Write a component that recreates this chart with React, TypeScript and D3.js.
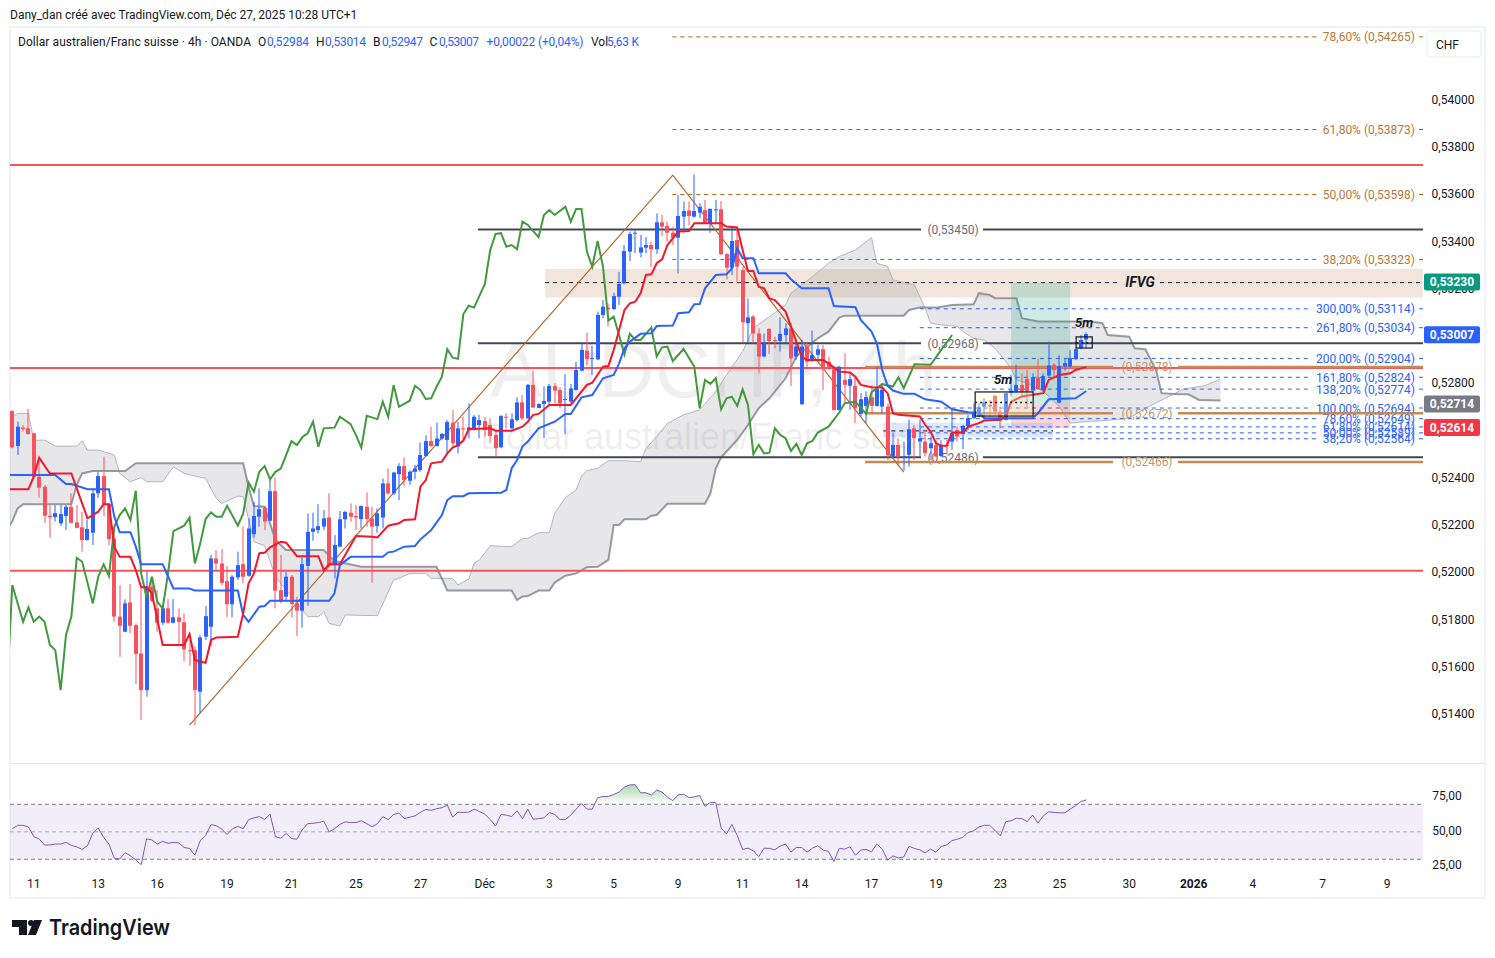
import React from 'react';
import * as d3 from 'd3';

const W = 1495;
const H = 958;
const FONT = 'Roboto, sans-serif';

// prices are kept in 1e-5 units (52984 = 0,52984), one entry per 4h bar
const opens = [
  52681,52533,52611,52608,52587,52403,52361,52238,52232,52206,
  52237,52276,52210,52189,52135,52166,52333,52406,52287,52142,
  51811,51747,51871,51775,51655,51500,51938,51846,51785,51846,
  51785,51808,51787,51669,51669,51493,51726,51768,52057,52036,
  51961,51863,51977,52033,51984,52160,52234,52272,52217,52342,
  51923,51895,51980,51867,51836,52026,52170,52177,52192,52231,
  52029,52107,52223,52251,52237,52224,52276,52227,52194,52230,
  52375,52333,52414,52448,52386,52424,52431,52491,52554,52533,
  52565,52559,52632,52531,52608,52601,52608,52622,52639,52622,52580,
  52528,52657,52608,52643,52718,52650,52792,52694,52711,52721,
  52787,52770,52729,52721,52770,52852,52937,52903,52900,53088,
  53119,53113,53165,53222,53356,53434,53352,53373,53384,53366,
  53480,53465,53436,53415,53504,53530,53504,53521,53532,53476,
  53532,53535,53346,53288,53405,53278,53053,53081,53010,52912,
  53029,52982,52978,53003,53031,52912,52710,52954,52893,52919,
  52943,52890,52858,52686,52813,52788,52788,52669,52703,52740,
  52703,52700,52700,52489,52538,52486,52496,52608,52552,52552,
  52524,52538,52491,52538,52552,52601,52584,52618,52651,52658,
  52700,52707,52745,52679,52644,52757,52764,52792,52817,52768,
  52824,52771,52831,52877,52717,52870,52870,52901,52947,52984,
];
const highs = [
  52685,52636,52622,52690,52590,52481,52368,52283,52283,52283,
  52283,52333,52283,52255,52220,52347,52424,52488,52290,52192,
  51945,51884,51949,51782,51938,52001,51980,51923,51860,51885,
  51885,51846,51825,51719,51684,51733,51856,52072,52093,52096,
  52025,51987,52086,52192,52227,52297,52354,52276,52389,52400,
  52072,52001,51987,51895,52065,52248,52251,52287,52262,52333,
  52156,52258,52259,52290,52283,52282,52337,52276,52269,52396,
  52438,52424,52460,52485,52431,52453,52548,52579,52615,52632,
  52589,52643,52686,52636,52657,52714,52665,52665,52657,52650,52601,
  52665,52672,52672,52739,52749,52796,52851,52714,52785,52796,
  52799,52782,52838,52796,52890,52968,53013,52957,53102,53151,
  53137,53182,53271,53384,53441,53445,53427,53417,53398,53518,
  53511,53483,53462,53596,53568,53568,53683,53561,53575,53539,
  53575,53570,53349,53465,53455,53292,53158,53088,53031,53010,
  53031,52996,53078,53053,53055,52975,52982,52975,53022,52961,
  52961,52912,52869,52872,52926,52844,52827,52757,52764,52792,
  52869,52792,52714,52590,52566,52552,52644,52623,52644,52601,
  52573,52559,52559,52559,52693,52615,52623,52665,52714,52714,
  52735,52728,52750,52700,52759,52834,52877,52841,52855,52841,
  52901,52841,52975,52884,52919,52905,52940,52947,53003,53014,
];
const lows = [
  52523,52495,52594,52582,52396,52314,52208,52145,52213,52194,
  52177,52206,52185,52086,52133,52114,52314,52237,52114,51789,
  51641,51745,51740,51525,51373,51472,51874,51747,51775,51782,
  51782,51691,51623,51603,51352,51401,51712,51684,52008,51945,
  51808,51808,51966,51952,51980,52145,52192,52177,52215,51846,
  51867,51874,51808,51729,51764,51857,52132,52163,52177,52020,
  51973,52105,52184,52213,52177,52184,52192,51954,52166,52184,
  52326,52326,52304,52364,52368,52392,52424,52488,52530,52531,
  52558,52502,52528,52502,52559,52566,52598,52566,52573,52545,52488,
  52524,52608,52604,52636,52643,52648,52693,52693,52566,52707,
  52714,52693,52583,52714,52768,52849,52876,52834,52897,53074,
  53039,53109,53130,53218,53316,53349,53331,53349,53290,53346,
  53422,53398,53384,53264,53436,53469,53501,53497,53473,53436,
  53476,53342,53239,53257,53229,52971,52971,52971,52841,52909,
  52923,52947,52933,52968,52787,52897,52707,52858,52890,52890,
  52770,52855,52683,52683,52714,52686,52630,52658,52630,52669,
  52700,52672,52474,52486,52449,52429,52446,52474,52489,52489,
  52474,52486,52486,52496,52517,52552,52520,52601,52647,52655,
  52658,52658,52665,52608,52641,52743,52757,52743,52693,52764,
  52771,52764,52827,52827,52714,52853,52867,52898,52943,52947,
];
const closes = [
  52527,52615,52605,52584,52403,52357,52238,52232,52249,52245,
  52276,52208,52187,52135,52182,52333,52406,52287,52139,51811,
  51772,51867,51772,51652,51500,51938,51877,51785,51846,51785,
  51808,51789,51672,51667,51500,51723,51813,52057,52036,51954,
  51863,51980,52029,51980,52184,52237,52266,52213,52342,51921,
  51874,51980,51864,51836,52033,52170,52184,52194,52227,52029,
  52114,52223,52254,52234,52231,52279,52224,52192,52248,52375,
  52333,52421,52448,52389,52424,52438,52495,52554,52533,52565,
  52584,52635,52545,52608,52604,52612,52657,52643,52601,52576,52524,
  52660,52653,52646,52718,52650,52792,52697,52711,52724,52787,
  52768,52714,52732,52777,52855,52940,52902,52906,53088,53123,
  53112,53168,53219,53359,53431,53436,53374,53384,53366,53480,
  53462,53436,53415,53507,53528,53507,53528,53546,53476,53537,
  53535,53345,53288,53401,53292,53057,53078,53010,52912,52968,
  52978,52979,53008,53031,52904,52954,52954,52890,52919,52943,
  52858,52862,52686,52869,52792,52816,52693,52731,52740,52703,
  52774,52771,52493,52538,52489,52489,52604,52566,52566,52503,
  52545,52489,52538,52534,52587,52573,52618,52651,52675,52697,
  52717,52700,52679,52641,52757,52768,52792,52764,52764,52824,
  52774,52830,52874,52855,52872,52884,52905,52943,52982,53007,
];

// ichimoku lines, as [bar, price] at the points where they turn
const tenkan: [number, number][] = [
  [-1,52350],[3,52350],[4,52403],[5,52484],[7,52417],[11,52417],[12,52354],[14,52227],[16,52255],[17,52287],[18,52287],
  [19,52107],[20,52064],[22,52064],[23,52008],[24,51935],[25,51935],[26,51909],[28,51691],[32,51691],[33,51737],[34,51627],
  [36,51616],[37,51712],[38,51723],[42,51726],[43,51825],[44,51952],[45,51994],[46,52079],[47,52081],[48,52104],[50,52128],
  [51,52124],[53,52067],[57,52067],[58,52008],[59,52033],[61,52033],[64,52152],[67,52149],[68,52146],[70,52196],[72,52206],
  [73,52220],[75,52223],[76,52361],[77,52389],[78,52460],[80,52467],[81,52502],[82,52527],[83,52537],[84,52556],[85,52604],
  [89,52608],[90,52598],[93,52598],[95,52615],[96,52636],[97,52665],[98,52669],[100,52707],[104,52707],[106,52763],[107,52792],
  [108,52801],[110,52869],[111,52872],[112,52940],[113,53024],[114,53109],[115,53137],[116,53144],[117,53180],[118,53257],
  [119,53260],[120,53307],[121,53323],[122,53384],[124,53441],[126,53443],[127,53476],[132,53476],[133,53462],[135,53458],
  [136,53363],[137,53274],[138,53274],[139,53208],[140,53201],[141,53158],[142,53151],[144,53102],[145,53039],[146,52975],
  [147,52912],[148,52897],[151,52897],[152,52883],[154,52848],[156,52844],[157,52827],[158,52792],[160,52782],[162,52781],
  [163,52757],[164,52672],[165,52665],[169,52658],[170,52623],[171,52594],[172,52545],[173,52534],[174,52534],[175,52590],
  [177,52590],[178,52615],[180,52630],[181,52641],[184,52644],[185,52658],[186,52721],[188,52743],[190,52750],[192,52757],
  [193,52813],[195,52834],[197,52841],[198,52855],[200,52867],
];
const kijun: [number, number][] = [
  [-1,52410],[8,52410],[10,52372],[11,52372],[14,52350],[18,52350],[19,52234],[20,52168],[22,52168],[23,52107],[24,52033],
  [28,52033],[30,51930],[33,51930],[34,51921],[42,51921],[43,51818],[44,51789],[46,51853],[47,51856],[48,51878],[59,51878],
  [60,51909],[61,52029],[63,52064],[69,52064],[70,52083],[71,52086],[73,52107],[75,52110],[76,52138],[78,52177],[80,52241],
  [81,52304],[82,52321],[84,52321],[85,52333],[91,52335],[92,52347],[93,52439],[94,52474],[95,52531],[96,52552],[98,52608],
  [101,52636],[103,52669],[104,52669],[106,52739],[108,52749],[110,52820],[112,52834],[113,52883],[114,52947],[115,52975],
  [117,53008],[119,53010],[120,53041],[123,53043],[124,53095],[126,53099],[127,53133],[128,53134],[129,53201],[131,53257],
  [133,53260],[134,53285],[135,53370],[136,53328],[138,53328],[139,53264],[144,53264],[145,53239],[147,53201],[152,53201],
  [153,53126],[157,53121],[158,53067],[160,53018],[161,52968],[162,52855],[163,52788],[164,52768],[166,52754],[168,52754],
  [170,52731],[173,52721],[175,52689],[178,52676],[180,52675],[181,52651],[190,52651],[191,52672],[193,52731],[198,52735],
  [199,52750],[200,52766],
];
const chikou: [number, number][] = [
  [-1,51500],[0,51945],[2,51789],[3,51850],[4,51789],[5,51811],[6,51789],[7,51691],[8,51669],[9,51500],[10,51733],[11,51811],
  [12,52060],[13,52043],[15,51867],[16,51980],[17,52032],[18,51983],[19,52192],[20,52241],[21,52269],[22,52220],[23,52344],
  [24,51994],[25,51892],[26,51980],[27,51874],[28,51846],[29,51994],[30,52173],[32,52196],[33,52230],[34,52036],[35,52121],
  [36,52224],[37,52252],[38,52234],[39,52234],[40,52280],[42,52196],[43,52248],[44,52378],[45,52340],[46,52424],[47,52448],
  [48,52392],[49,52424],[50,52438],[52,52554],[53,52537],[54,52570],[55,52587],[56,52636],[57,52530],[58,52608],[60,52611],
  [61,52657],[63,52626],[64,52579],[65,52526],[66,52661],[68,52647],[69,52721],[70,52657],[71,52791],[72,52699],[74,52725],
  [75,52788],[76,52770],[77,52732],[78,52735],[79,52784],[80,52827],[81,52943],[82,52907],[83,52902],[84,53092],[85,53127],
  [86,53119],[88,53219],[89,53363],[90,53431],[91,53434],[92,53377],[93,53384],[94,53366],[95,53483],[96,53469],[98,53417],
  [99,53511],[100,53532],[101,53511],[103,53546],[104,53483],[105,53537],[106,53537],[107,53356],[108,53292],[109,53401],
  [110,53292],[111,53064],[112,53081],[114,52921],[115,53008],[116,52982],[117,52982],[119,53034],[120,52912],[121,52951],
  [122,52954],[123,52893],[125,52944],[127,52869],[128,52693],[129,52813],[130,52796],[131,52820],[132,52689],[133,52735],
  [134,52742],[135,52703],[136,52773],[137,52707],[138,52498],[139,52538],[140,52502],[141,52505],[142,52608],[143,52580],
  [144,52566],[145,52512],[146,52542],[147,52495],[148,52545],[149,52555],[150,52590],[152,52615],[154,52675],[155,52714],
  [157,52721],[159,52669],[160,52761],[162,52795],[164,52785],[165,52824],[166,52778],[168,52879],[171,52877],[173,52940],
  [175,53003],
];
const senkouA: [number, number][] = [
  [-1,52650],[0,52657],[1,52671],[3,52671],[4,52558],[6,52558],[8,52533],[12,52533],[13,52554],[14,52516],[16,52516],[19,52495],
  [20,52417],[22,52382],[24,52400],[25,52382],[28,52382],[30,52445],[32,52417],[36,52396],[38,52311],[39,52290],[42,52321],
  [43,52319],[45,52128],[47,52111],[49,51980],[51,51923],[55,51811],[57,51811],[58,51832],[59,51782],[61,51771],[62,51818],
  [68,51815],[71,51966],[72,51973],[74,51994],[77,51994],[78,51973],[82,51973],[83,51945],[85,51970],[86,52037],[87,52051],
  [89,52111],[93,52107],[95,52142],[96,52142],[98,52166],[100,52166],[101,52248],[103,52315],[105,52347],[106,52406],[107,52429],
  [109,52439],[111,52471],[114,52471],[117,52467],[118,52523],[120,52573],[122,52629],[125,52665],[128,52686],[131,52764],
  [133,52834],[136,52933],[138,53032],[141,53081],[144,53130],[145,53180],[149,53250],[152,53307],[154,53335],[157,53363],
  [160,53415],[161,53307],[163,53293],[164,53236],[168,53215],[170,53116],[171,53053],[173,53046],[176,53039],[177,53018],
  [179,52989],[181,52982],[183,52947],[186,52862],[187,52813],[189,52799],[192,52764],[195,52700],[197,52630],[200,52637],
  [203,52640],[208,52651],[211,52693],[216,52750],[218,52774],[222,52788],[225,52816],
];
const senkouB: [number, number][] = [
  [-1,52180],[0,52215],[1,52269],[2,52287],[11,52287],[12,52368],[13,52417],[15,52427],[21,52427],[23,52460],[43,52460],
  [44,52361],[45,52279],[47,52276],[49,52135],[51,52093],[58,52093],[60,52046],[65,52022],[79,52022],[81,51921],[93,51921],
  [94,51881],[95,51896],[96,51898],[98,51921],[100,51921],[101,51955],[103,51984],[105,51994],[107,52020],[109,52022],[111,52051],
  [112,52199],[113,52199],[114,52223],[118,52223],[119,52238],[120,52241],[122,52289],[129,52289],[130,52333],[131,52439],
  [132,52485],[133,52510],[135,52559],[137,52622],[139,52693],[141,52735],[144,52820],[146,52912],[150,52989],[152,53017],
  [154,53077],[155,53085],[166,53085],[167,53109],[169,53119],[172,53119],[175,53130],[179,53133],[180,53180],[182,53173],
  [183,53159],[187,53159],[188,53074],[191,53060],[201,53060],[203,53053],[204,53003],[208,52996],[209,52947],[211,52943],
  [213,52855],[214,52757],[217,52752],[219,52752],[221,52728],[225,52726],
];

// rsi per bar
const rsiValues = [
  52.2,54.7,54.7,53.5,46.5,44.8,40.4,40.4,41.1,41.1,42.3,40.1,39.1,37.2,39.9,49,52.7,46,41.1,30.7,30.2,34.9,32.5,29.5,26.1,
  44.8,44.1,41.1,43.1,41.6,42.3,41.9,38.6,37.9,33,43.6,47.3,55.2,54.4,52,48,52.2,54,52.2,58.9,60.1,61.1,58.9,62.8,46.5,45.3,
  48.8,45.1,44.6,51.5,55.9,56.2,56.7,57.7,49.8,52.2,55.4,57.2,56.7,56.7,58.1,55.9,53.7,55.9,61.1,58.9,62.6,63.6,59.6,60.6,
  61.6,64.1,66.3,65.6,66.8,67.5,69.5,60.6,64.3,64.1,64.3,66.5,64.8,62.8,58.9,54.2,62.6,62.1,61.1,65.3,59.6,66.5,59.1,59.6,
  60.1,64.1,62.6,58.9,58.9,62.1,66.5,70.5,66.5,66.5,74.7,75.7,75.7,77.2,78.9,82.6,84.1,84.3,78.4,78.4,76.7,80.4,78.9,75.2,
  72.7,76.9,77.4,74.9,75.4,76.4,68.5,71.5,71.2,52.7,48.5,55.4,47.3,37.2,38.1,
  36.2,32,38.1,37.9,36.9,39.6,41.1,35.2,38.6,38.6,35.2,38.1,39.9,36.7,35.7,28.3,37.9,37.4,39.1,33,36.7,37.2,35.4,41.1,37.4,
  29.3,32.5,31,31.7,39.4,37.9,36.9,34.7,37.4,35.2,39.4,40.4,43.6,44.6,46,49.5,50.7,53.5,54.7,54.7,51,47,57.4,58.1,59.9,59.6,
  57.4,62.1,56.4,61.6,64.6,64.1,63.8,63.8,66.5,69,72,73.2,
];

// axes
const priceTicks = [54000,53800,53600,53400,53200,53000,52800,52600,52400,52200,52000,51800,51600,51400];
const rsiTicks = [75, 50, 25];
const timeBars = [4,16,27,40,52,64,76,88,100,112,124,136,147,160,172,184,195,208,220,231,244,256];
const timeLabels = ['11','13','16','19','21','25','27','Déc','3','5','9','11','14','17','19','23','25','30','2026','4','7','9'];

// drawings
const redLevels = [53723, 52863, 52005];
const blackLevels = [53450, 52968, 52486];
const brownLevels = [52868, 52672, 52466];
const brownLabels = ['(0,52878)', '(0,52672)', '(0,52466)'];
const upperFibPct = ['78,60%', '61,80%', '50,00%', '38,20%'];
const upperFibPrices = [54265, 53873, 53598, 53323];
const lowerFibPct = ['300,00%','261,80%','200,00%','161,80%','138,20%','100,00%','78,60%','61,80%','50,00%','38,20%'];
const lowerFibPrices = [53114, 53034, 52904, 52824, 52774, 52694, 52649, 52614, 52589, 52564];
const trendBars = [33, 123, 166];
const trendPrices = [51352, 53680, 52423];
const tagLabels = ['0,53230', '0,53007', '0,52714', '0,52614'];
const tagPrices = [53230, 53007, 52714, 52614];
const tagColors = ['#089981', '#2962ff', '#787b86', '#f23645'];

const x = d3.scaleLinear().domain([0, 200]).range([12.3, 1086.3]);
const y = d3.scaleLinear().domain([54000, 51400]).range([99.5, 713.7]);
const rsiY = d3.scaleLinear().domain([70, 30]).range([804.3, 859.3]);

const pairLine = d3.line<[number, number]>().x(d => x(d[0])).y(d => y(d[1]));
const fmt = (p: number) => `0,${p}`;

const UP = '#2962ff';
const DOWN = '#f7525f';
const RIGHT = 1423;

export default function App() {
  const cloud = pairLine([...senkouA, ...[...senkouB].reverse()]) + 'Z';
  const rsiLine = d3.line<number>().x((_, i) => x(i)).y(d => rsiY(d));
  const rsiArea = d3.area<number>().x((_, i) => x(i)).y0(rsiY(70)).y1(d => rsiY(d));

  const fibRows = (pcts: string[], prices: number[], startBar: number, color: string, textColor: string) =>
    prices.map((p, i) => {
      const label = `${pcts[i]} (${fmt(p)})`;
      const textStart = pcts[i].length > 6 ? 1318 : 1323;
      return (
        <g key={p}>
          <line x1={x(startBar)} x2={textStart - 6} y1={y(p)} y2={y(p)} stroke={color} strokeDasharray="4 4" />
          <line x1={1419} x2={RIGHT} y1={y(p)} y2={y(p)} stroke={color} strokeDasharray="4 4" />
          <text x={1415} y={y(p) + 4.5} textAnchor="end" fontSize={12} fill={textColor}>{label}</text>
        </g>
      );
    });

  return (
    <svg width={W} height={H} style={{ position: 'absolute', left: 0, top: 0, background: '#fff' }} fontFamily={FONT}>
      <defs>
        <clipPath id="pane"><rect x={10} y={28} width={RIGHT - 10} height={735} /></clipPath>
        <clipPath id="rsi-top"><rect x={10} y={764} width={RIGHT - 10} height={rsiY(70) - 764} /></clipPath>
        <linearGradient id="ob" gradientUnits="userSpaceOnUse" x1="0" x2="0" y1={rsiY(85)} y2={rsiY(70)}>
          <stop offset="0" stopColor="#4caf50" stopOpacity={0.5} />
          <stop offset="1" stopColor="#4caf50" stopOpacity={0} />
        </linearGradient>
      </defs>

      <text x={10} y={18.5} fontSize={12} fill="#131722">Dany_dan créé avec TradingView.com, Déc 27, 2025 10:28 UTC+1</text>

      {/* frame */}
      <rect x={10} y={27} width={1475} height={871} fill="none" stroke="#f0f3fa" strokeWidth={2} />
      <line x1={10} x2={1485} y1={763.5} y2={763.5} stroke="#e0e3eb" />

      <g clipPath="url(#pane)">
        {/* watermark */}
        <text x={490} y={397} fontSize={78} fontFamily="Liberation Sans" fill="#787b86" fillOpacity={0.12}>AUDCHF, 4h</text>
        <text x={480} y={449} fontSize={36} fontFamily="Liberation Sans" fill="#787b86" fillOpacity={0.12}>Dollar australien/Franc suisse</text>

        {/* IFVG band */}
        <rect x={x(99.2)} y={269} width={RIGHT - x(99.2)} height={28.5} fill="#f2e6dc" />

        {/* cloud */}
        <path d={cloud} fill="#787b86" fillOpacity={0.18} />
        <path d={pairLine(senkouA) ?? ''} fill="none" stroke="#b2b5be" strokeWidth={1} />
        <path d={pairLine(senkouB) ?? ''} fill="none" stroke="#787b86" strokeOpacity={0.75} strokeWidth={2} />

        {/* position + zones */}
        <rect x={x(186)} y={y(53225)} width={x(197) - x(186)} height={y(52711) - y(53225)} fill="#089981" fillOpacity={0.2} />
        <rect x={x(186)} y={y(52711)} width={x(197) - x(186)} height={y(52609) - y(52711)} fill="#f23645" fillOpacity={0.2} />
        <rect x={x(162.2)} y={y(52631)} width={x(193.8) - x(162.2)} height={y(52571) - y(52631)} fill="#2962ff" fillOpacity={0.15} />

        {/* fibs */}
        {fibRows(lowerFibPct, lowerFibPrices, 169, '#2962ff', '#2962ff')}
        {fibRows(upperFibPct, upperFibPrices, 122.9, '#b45f06', '#b8763a')}

        {/* levels */}
        {redLevels.map(p => (
          <line key={p} x1={10} x2={RIGHT} y1={y(p)} y2={y(p)} stroke={DOWN} strokeWidth={2} />
        ))}
        {blackLevels.map(p => (
          <g key={p}>
            <line x1={x(86.7)} x2={921} y1={y(p)} y2={y(p)} stroke="#434651" strokeWidth={2} />
            <line x1={983} x2={RIGHT} y1={y(p)} y2={y(p)} stroke="#434651" strokeWidth={2} />
            <text x={953} y={y(p) + 4.5} textAnchor="middle" fontSize={12} fill="#6a6d78">({fmt(p)})</text>
          </g>
        ))}
        {brownLevels.map((p, i) => (
          <g key={p}>
            <line x1={x(158.8)} x2={1113} y1={y(p)} y2={y(p)} stroke="#c48a56" strokeWidth={2.5} />
            <line x1={1178} x2={RIGHT} y1={y(p)} y2={y(p)} stroke="#c48a56" strokeWidth={2.5} />
            <text x={1147} y={y(p) + 4.5} textAnchor="middle" fontSize={12} fill="#c4956a">{brownLabels[i]}</text>
          </g>
        ))}

        {/* IFVG dashed */}
        <line x1={x(99.2)} x2={1120} y1={y(53225)} y2={y(53225)} stroke="#131722" strokeDasharray="4 4" />
        <line x1={1160} x2={RIGHT} y1={y(53225)} y2={y(53225)} stroke="#131722" strokeDasharray="4 4" />
        <text x={1140} y={287} textAnchor="middle" fontSize={14} fontWeight={700} fontStyle="italic" fill="#131722">IFVG</text>
        <line x1={x(162.2)} x2={x(193.8)} y1={y(52597)} y2={y(52597)} stroke="#131722" strokeDasharray="4 4" />

        {/* trend */}
        <path d={d3.line<number>().x(d => x(d)).y((_, i) => y(trendPrices[i]))(trendBars) ?? ''} fill="none" stroke="#b26a2e" strokeWidth={1.2} />

        {/* candles */}
        {opens.map((o, i) => {
          const c = closes[i];
          const color = c >= o ? UP : DOWN;
          const cx = Math.round(x(i));
          const top = y(Math.max(o, c));
          const bot = y(Math.min(o, c));
          return (
            <g key={i} fill={color}>
              <rect x={cx - 0.5} y={y(highs[i])} width={1} height={y(lows[i]) - y(highs[i])} />
              <rect x={cx - 2} y={top} width={4} height={Math.max(1, bot - top)} />
            </g>
          );
        })}

        {/* ichimoku */}
        <path d={pairLine(chikou) ?? ''} fill="none" stroke="#43993f" strokeWidth={2} />
        <path d={pairLine(kijun) ?? ''} fill="none" stroke="#2962ff" strokeWidth={2} />
        <path d={pairLine(tenkan) ?? ''} fill="none" stroke="#f0182d" strokeWidth={2} />

        {/* 5m boxes */}
        <rect x={x(179.3)} y={y(52762)} width={x(190.1) - x(179.3)} height={y(52660) - y(52762)} fill="#ffffc8" fillOpacity={0.3} stroke="#131722" strokeWidth={1.2} />
        <line x1={x(179.3)} x2={x(190.1)} y1={y(52717)} y2={y(52717)} stroke="#131722" strokeWidth={1.5} strokeDasharray="2 3" />
        <text x={1003} y={384} textAnchor="middle" fontSize={13} fontWeight={700} fontStyle="italic" fill="#131722">5m</text>
        <rect x={x(198.1)} y={y(52995)} width={x(201.1) - x(198.1)} height={y(52948) - y(52995)} fill="none" stroke="#131722" strokeWidth={1.2} />
        <line x1={x(198.1)} x2={x(201.1)} y1={y(52969)} y2={y(52969)} stroke="#131722" strokeWidth={1.5} strokeDasharray="2 3" />
        <text x={1084} y={327} textAnchor="middle" fontSize={13} fontWeight={700} fontStyle="italic" fill="#131722">5m</text>
      </g>

      {/* legend */}
      <g fontSize={12} fill="#131722">
        <text x={18} y={46} textLength={233} lengthAdjust="spacing">Dollar australien/Franc suisse · 4h · OANDA</text>
        <text x={258} y={46}>O</text><text x={267} y={46} fill="#2962ff" textLength={42}>0,52984</text>
        <text x={316} y={46}>H</text><text x={325} y={46} fill="#2962ff" textLength={41}>0,53014</text>
        <text x={373} y={46}>B</text><text x={382} y={46} fill="#2962ff" textLength={41}>0,52947</text>
        <text x={429.5} y={46}>C</text><text x={439} y={46} fill="#2962ff" textLength={40}>0,53007</text>
        <text x={486.5} y={46} fill="#2962ff" textLength={97}>+0,00022 (+0,04%)</text>
        <text x={591} y={46}>Vol</text><text x={607} y={46} fill="#2962ff" textLength={32}>5,63 K</text>
      </g>

      {/* price axis */}
      <g fontSize={12} fill="#131722">
        {priceTicks.map(p => (
          <text key={p} x={1453} y={y(p) + 4.5} textAnchor="middle">{fmt(p)}</text>
        ))}
      </g>
      <rect x={1427} y={31} width={54} height={26} rx={3} fill="#fff" stroke="#f0f3fa" strokeWidth={1.5} />
      <text x={1436} y={48.5} fontSize={12} fill="#131722">CHF</text>
      {tagLabels.map((t, i) => (
        <g key={t}>
          <rect x={1424} y={y(tagPrices[i]) - 7.8} width={56} height={17} rx={2} fill={tagColors[i]} />
          <text x={1452} y={y(tagPrices[i]) + 5} textAnchor="middle" fontSize={12} fontWeight={700} fill="#fff">{t}</text>
        </g>
      ))}

      {/* rsi pane */}
      <rect x={10} y={rsiY(70)} width={RIGHT - 10} height={rsiY(30) - rsiY(70)} fill="#7e57c2" fillOpacity={0.1} />
      <line x1={10} x2={RIGHT} y1={rsiY(70)} y2={rsiY(70)} stroke="#787b86" strokeDasharray="4 3" />
      <line x1={10} x2={RIGHT} y1={rsiY(50)} y2={rsiY(50)} stroke="#787b86" strokeOpacity={0.55} strokeDasharray="4 3" />
      <line x1={10} x2={RIGHT} y1={rsiY(30)} y2={rsiY(30)} stroke="#787b86" strokeDasharray="4 3" />
      <path d={rsiArea(rsiValues) ?? ''} fill="url(#ob)" clipPath="url(#rsi-top)" />
      <path d={rsiLine(rsiValues) ?? ''} fill="none" stroke="#7e57c2" strokeWidth={1} />
      {rsiTicks.map(t => (
        <text key={t} x={1447} y={rsiY(t) + 3} textAnchor="middle" fontSize={12} fill="#131722">{t},00</text>
      ))}

      {/* time axis */}
      {timeLabels.map((t, i) => (
        <text key={i} x={x(timeBars[i])} y={888} textAnchor="middle" fontSize={12} fontWeight={t === '2026' ? 700 : 400} fill="#131722">{t}</text>
      ))}

      {/* footer logo */}
      <g fill="#131722">
        <path d="M12 920H27V935H19V927H12Z" />
        <circle cx={31} cy={923} r={3} />
        <path d="M34 920H42L36 935H28Z" />
      </g>
      <text x={49} y={935} fontSize={22} fontWeight={600} fontFamily="Inter, sans-serif" fill="#131722" textLength={121} lengthAdjust="spacingAndGlyphs">TradingView</text>
    </svg>
  );
}
